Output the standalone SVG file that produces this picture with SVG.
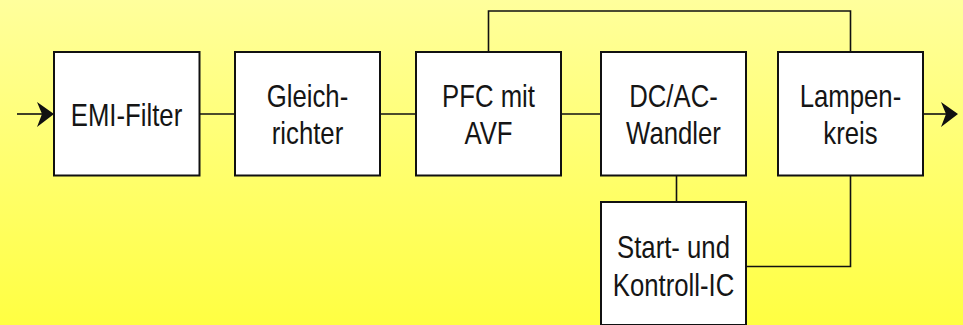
<svg xmlns="http://www.w3.org/2000/svg" width="963" height="325" viewBox="0 0 963 325">
  <defs>
    <linearGradient id="bg" x1="0" y1="0" x2="0" y2="1">
      <stop offset="0" stop-color="#FFFF9C"/>
      <stop offset="1" stop-color="#FFFF42"/>
    </linearGradient>
  </defs>
  <style>
    .box { fill: #FFFFFF; stroke: #111111; stroke-width: 2; }
    .wire { fill: none; stroke: #111111; stroke-width: 1.6; }
    .head { fill: #111111; stroke: none; }
    .lbl { font-family: "Liberation Sans", Arial, sans-serif; font-size: 31px; fill: #151515; text-anchor: middle; }
  </style>

  <rect x="0" y="0" width="963" height="325" fill="url(#bg)"/>

  <!-- connectors -->
  <g id="connectors">
    <path class="wire" d="M17,114 H46"/>
    <polygon class="head" points="54,114 37,102 42,114 37,127"/>
    <path class="wire" d="M199.5,114 H235"/>
    <path class="wire" d="M380,114 H416"/>
    <path class="wire" d="M561,114 H601"/>
    <path class="wire" d="M488.5,52 V11 H850.5 V52"/>
    <path class="wire" d="M676.5,175.5 V202"/>
    <path class="wire" d="M850.5,175.5 V266.5 H746"/>
    <path class="wire" d="M923,114 H950"/>
    <polygon class="head" points="958,114 941,102 946,114 941,127"/>
  </g>

  <g id="emi">
    <rect class="box" x="54" y="52" width="145.5" height="123.5"/>
    <text class="lbl" transform="translate(126.5,126) scale(0.83,1)">EMI-Filter</text>
  </g>

  <g id="gleichrichter">
    <rect class="box" x="235" y="52" width="145" height="123.5"/>
    <text class="lbl" transform="translate(307.5,106.5) scale(0.83,1)">Gleich-</text>
    <text class="lbl" transform="translate(307.5,143.5) scale(0.83,1)">richter</text>
  </g>

  <g id="pfc">
    <rect class="box" x="416" y="52" width="145" height="123.5"/>
    <text class="lbl" transform="translate(488.5,106.5) scale(0.83,1)">PFC mit</text>
    <text class="lbl" transform="translate(488.5,143.5) scale(0.83,1)">AVF</text>
  </g>

  <g id="dcac">
    <rect class="box" x="601" y="52" width="145" height="123.5"/>
    <text class="lbl" transform="translate(673.5,106.5) scale(0.83,1)">DC/AC-</text>
    <text class="lbl" transform="translate(673.5,143.5) scale(0.83,1)">Wandler</text>
  </g>

  <g id="lampenkreis">
    <rect class="box" x="778" y="52" width="145" height="123.5"/>
    <text class="lbl" transform="translate(850.5,106.5) scale(0.83,1)">Lampen-</text>
    <text class="lbl" transform="translate(850.5,143.5) scale(0.83,1)">kreis</text>
  </g>

  <g id="start-ic">
    <rect class="box" x="601" y="202" width="145" height="123"/>
    <text class="lbl" transform="translate(673.5,257.5) scale(0.83,1)">Start- und</text>
    <text class="lbl" transform="translate(673.5,296) scale(0.83,1)">Kontroll-IC</text>
  </g>
</svg>
